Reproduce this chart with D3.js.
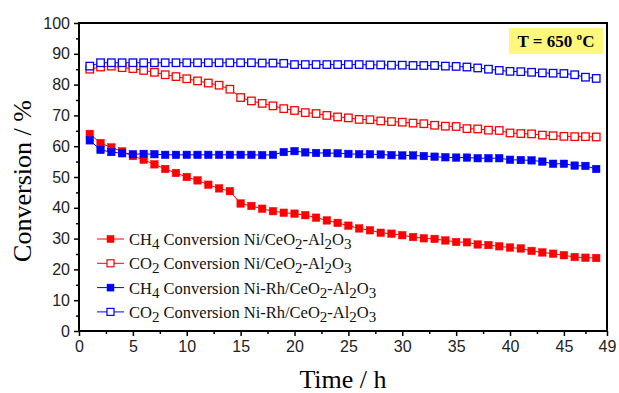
<!DOCTYPE html>
<html>
<head>
<meta charset="utf-8">
<script src="https://cdn.jsdelivr.net/npm/d3@7"></script>
<style>
  body { margin: 0; background: #fff; }
  svg { display: block; }
</style>
</head>
<body>
<div id="chart"></div>
<script>
// time on stream, hours
var hours = d3.range(1, 49)

// Ni/CeO2-Al2O3
var ch4Ni = [64.0, 61.0, 59.6, 58.3, 56.8, 55.6, 54.1, 52.6, 51.3, 50.0,
             48.9, 47.5, 46.3, 45.4, 41.4, 40.6, 39.7, 38.9, 38.4, 38.1,
             37.6, 36.8, 35.9, 35.1, 34.2, 33.3, 32.7, 31.9, 31.6, 31.1,
             30.5, 30.1, 29.9, 29.4, 28.9, 28.8, 28.1, 27.9, 27.5, 27.1,
             26.8, 26.0, 25.5, 25.1, 24.6, 24.0, 23.8, 23.7]
var co2Ni = [85.0, 85.7, 86.0, 85.5, 85.2, 84.6, 84.0, 83.2, 82.6, 81.9,
             81.2, 80.5, 79.8, 78.5, 75.8, 74.7, 73.9, 73.1, 72.2, 71.6,
             70.9, 70.6, 70.0, 69.5, 69.2, 68.7, 68.6, 68.2, 68.0, 67.8,
             67.5, 67.3, 66.8, 66.5, 66.4, 65.7, 65.6, 65.2, 65.1, 64.3,
             64.1, 64.0, 63.6, 63.4, 63.2, 63.1, 63.1, 63.0]

// Ni-Rh/CeO2-Al2O3
var ch4NiRh = [61.9, 58.8, 58.1, 57.7, 57.4, 57.5, 57.4, 57.2, 57.2, 57.2,
               57.2, 57.2, 57.2, 57.2, 57.2, 57.2, 57.1, 57.2, 58.1, 58.4,
               58.0, 57.8, 57.8, 57.7, 57.5, 57.4, 57.4, 57.3, 57.1, 57.0,
               57.0, 56.8, 56.6, 56.4, 56.3, 56.3, 56.1, 56.1, 56.1, 55.6,
               55.5, 55.4, 55.0, 54.3, 54.3, 53.7, 53.6, 52.6]
var co2NiRh = [86.0, 87.1, 87.1, 87.1, 87.1, 87.1, 87.1, 87.1, 87.1, 87.1,
               87.1, 87.1, 87.1, 87.1, 87.1, 87.1, 87.0, 87.0, 86.9, 86.5,
               86.5, 86.5, 86.5, 86.5, 86.5, 86.5, 86.4, 86.4, 86.3, 86.3,
               86.2, 86.2, 86.2, 86.0, 85.9, 85.7, 85.4, 85.0, 84.6, 84.3,
               84.2, 84.0, 83.8, 83.7, 83.6, 83.2, 82.4, 82.0]

var xTicks = [0, 5, 10, 15, 20, 25, 30, 35, 40, 45, 49]
var xMinor = [2.5, 7.5, 12.5, 17.5, 22.5, 27.5, 32.5, 37.5, 42.5, 47]
var yTicks = [0, 10, 20, 30, 40, 50, 60, 70, 80, 90, 100]
var yMinor = [5, 15, 25, 35, 45, 55, 65, 75, 85, 95]

var series = [
  {label: ["CH", "4", " Conversion Ni/CeO", "2", "-Al", "2", "O", "3"], values: ch4Ni, color: "#ff0000", filled: true},
  {label: ["CO", "2", " Conversion Ni/CeO", "2", "-Al", "2", "O", "3"], values: co2Ni, color: "#ff0000", filled: false},
  {label: ["CH", "4", " Conversion Ni-Rh/CeO", "2", "-Al", "2", "O", "3"], values: ch4NiRh, color: "#0000ff", filled: true},
  {label: ["CO", "2", " Conversion Ni-Rh/CeO", "2", "-Al", "2", "O", "3"], values: co2NiRh, color: "#0000ff", filled: false}
]

var width = 619, height = 393
var margin = {top: 23, right: 12, bottom: 62, left: 79}

var svg = d3.select("#chart").append("svg")
            .attr("width", width)
            .attr("height", height)

var x = d3.scaleLinear().domain([0, 49]).range([margin.left, width - margin.right])
var y = d3.scaleLinear().domain([0, 100]).range([height - margin.bottom, margin.top])

var sans = "'Liberation Sans', Arial, sans-serif"
var serif = "'Liberation Serif', 'Times New Roman', serif"

// axes (major ticks with labels, minor ticks without)
var xAxis = svg.append("g")
  .attr("transform", "translate(0," + y(0) + ")")
  .call(d3.axisBottom(x).tickValues(xTicks).tickSize(5).tickPadding(5).tickFormat(d3.format("d")))
svg.append("g")
  .attr("transform", "translate(0," + y(0) + ")")
  .call(d3.axisBottom(x).tickValues(xMinor).tickSize(3).tickFormat(""))
var yAxis = svg.append("g")
  .attr("transform", "translate(" + x(0) + ",0)")
  .call(d3.axisLeft(y).tickValues(yTicks).tickSize(5).tickPadding(4).tickFormat(d3.format("d")))
svg.append("g")
  .attr("transform", "translate(" + x(0) + ",0)")
  .call(d3.axisLeft(y).tickValues(yMinor).tickSize(3).tickFormat(""))

svg.selectAll(".domain").remove()
svg.selectAll(".tick line").attr("stroke", "#000").attr("stroke-width", 1.5)
svg.selectAll(".tick text").attr("font-family", sans).attr("font-size", 16).attr("fill", "#222")

// frame
svg.append("rect")
  .attr("x", x(0)).attr("y", y(100))
  .attr("width", x(49) - x(0)).attr("height", y(0) - y(100))
  .attr("fill", "none").attr("stroke", "#000").attr("stroke-width", 2)

// series: lines then markers
var line = d3.line().x((d, i) => x(hours[i])).y(d => y(d))
var size = 7.5

series.forEach(s => {
  var g = svg.append("g")
  g.append("path")
    .attr("d", line(s.values))
    .attr("fill", "none")
    .attr("stroke", s.color)
    .attr("stroke-width", 1)
  g.selectAll("rect")
    .data(s.values)
    .join("rect")
      .attr("x", (d, i) => x(hours[i]) - size / 2)
      .attr("y", d => y(d) - size / 2)
      .attr("width", size)
      .attr("height", size)
      .attr("fill", s.filled ? s.color : "#fff")
      .attr("stroke", s.color)
      .attr("stroke-width", s.filled ? 0.5 : 1.3)
})

// legend
var legend = svg.append("g").attr("transform", "translate(97,239)")
series.forEach((s, i) => {
  var row = legend.append("g").attr("transform", "translate(0," + (i * 24.3) + ")")
  row.append("line")
    .attr("x1", 0).attr("x2", 27).attr("y1", 0).attr("y2", 0)
    .attr("stroke", s.color).attr("stroke-width", 1)
  row.append("rect")
    .attr("x", 13.5 - 3.5).attr("y", -3.5).attr("width", 7).attr("height", 7)
    .attr("fill", s.filled ? s.color : "#fff")
    .attr("stroke", s.color).attr("stroke-width", s.filled ? 0.5 : 1.2)
  var t = row.append("text")
    .attr("x", 32).attr("y", 6)
    .attr("font-family", serif).attr("font-size", 16.5).attr("fill", "#111")
  s.label.forEach((part, j) => {
    var sub = j % 2 == 1
    t.append("tspan")
      .attr("dy", sub ? 4 : (j > 0 ? -4 : 0))
      .attr("font-size", sub ? 15 : 16.5)
      .text(part)
  })
})

// temperature badge
svg.append("rect")
  .attr("x", 509).attr("y", 28).attr("width", 94).attr("height", 26)
  .attr("fill", "#fdf87c")
svg.append("text")
  .attr("x", 556).attr("y", 47)
  .attr("text-anchor", "middle")
  .attr("font-family", serif).attr("font-weight", "bold").attr("font-size", 17)
  .text("T = 650 ºC")

// axis titles
svg.append("text")
  .attr("x", (x(0) + x(49)) / 2).attr("y", 388)
  .attr("text-anchor", "middle")
  .attr("font-family", serif).attr("font-size", 26)
  .text("Time / h")
svg.append("text")
  .attr("transform", "translate(31," + 181 + ") rotate(-90)")
  .attr("text-anchor", "middle")
  .attr("font-family", serif).attr("font-size", 26)
  .text("Conversion / %")
</script>
</body>
</html>
